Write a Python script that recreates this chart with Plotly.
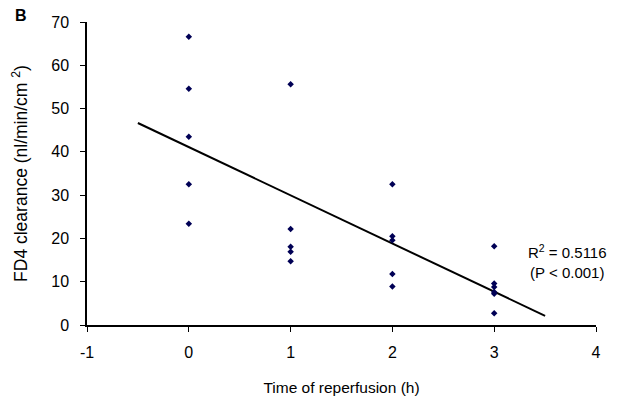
import numpy as np
import plotly.graph_objects as go

time_h = [0, 0, 0, 0, 0,
          1, 1, 1, 1, 1,
          2, 2, 2, 2, 2,
          3, 3, 3, 3, 3, 3]
clearance = [66.6, 54.6, 43.5, 32.5, 23.4,
             55.6, 22.2, 18.1, 16.9, 14.7,
             32.5, 20.5, 19.6, 11.8, 8.9,
             18.2, 9.6, 8.8, 7.6, 7.2, 2.7]
x_ticks = [-1, 0, 1, 2, 3, 4]
x_tick_labels = ["-1", "0", "1", "2", "3", "4"]
y_ticks = [0, 10, 20, 30, 40, 50, 60, 70]
fit_x = [-0.5, 3.5]

slope, intercept = np.polyfit(time_h, clearance, 1)
fit_y = [slope * v + intercept for v in fit_x]

fig = go.Figure()
fig.add_trace(go.Scatter(x=fit_x, y=fit_y, mode="lines",
                         line=dict(color="black", width=2), showlegend=False))
fig.add_trace(go.Scatter(x=time_h, y=clearance, mode="markers",
                         marker=dict(symbol="diamond", size=5, color="#000055"),
                         showlegend=False))

# The page body has an 8px margin, so the figure is offset by 8px; compensate.
font = dict(family="Liberation Sans, Arial, sans-serif", color="black")
fig.update_layout(
    width=611, height=403,
    margin=dict(l=79, r=23, t=14, b=86),
    paper_bgcolor="white", plot_bgcolor="white",
    font=dict(**font, size=15),
    xaxis=dict(range=[-1, 4], tickvals=x_ticks, ticktext=x_tick_labels,
               showgrid=False, zeroline=False, automargin=False,
               showline=True, linecolor="black", linewidth=1.5,
               ticks="outside", ticklen=5, tickcolor="black", ticklabelstandoff=7,
               tickfont=dict(size=16),
               title=dict(text="Time of reperfusion (h)", font=dict(size=15.5), standoff=22)),
    yaxis=dict(range=[0, 70], tickvals=y_ticks, showgrid=False, zeroline=False,
               automargin=False,
               showline=True, linecolor="black", linewidth=1.5,
               ticks="outside", ticklen=5, tickcolor="black", ticklabelstandoff=8,
               tickfont=dict(size=16),
               title=dict(text="FD4 clearance (nl/min/cm <sup>2</sup>)", font=dict(size=17.5), standoff=19)),
    annotations=[
        dict(text="<b>B</b>", xref="paper", yref="paper", x=-74/509, y=1 + 6/303,
             xanchor="left", yanchor="middle", showarrow=False, font=dict(size=16)),
        dict(text="R<sup>2</sup> = 0.5116<br>(P < 0.001)", xref="paper", yref="paper",
             x=1 + 13/509, y=(325 - 261) / 303, xanchor="right", yanchor="middle",
             align="center", showarrow=False, font=dict(size=15)),
    ],
)
fig.write_html("out.html")
